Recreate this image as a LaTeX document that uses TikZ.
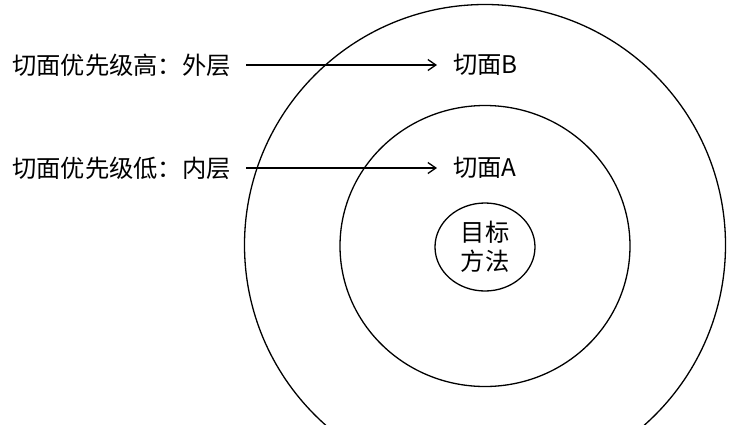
\documentclass[tikz,border=0pt]{standalone}
\usepackage{fontspec}
\setmainfont{Noto Sans CJK SC}
\usetikzlibrary{arrows.meta,shapes.geometric}
\begin{document}
\begin{tikzpicture}[x=1pt,y=-1pt,
  ring/.style={draw, line width=1.3pt, ellipse, inner sep=0pt},
  lbl/.style={font=\fontsize{24.3}{29}\selectfont, inner sep=0pt, anchor=west},
  arr/.style={line width=1.3pt, -{Straight Barb[length=8pt,width=11pt,line width=1.3pt]}}]
\path[use as bounding box] (0,0) rectangle (748,424);
\node[ring, minimum width=481pt, minimum height=481pt] (outer) at (485,245) {};
\node[ring, minimum width=290pt, minimum height=281pt] (middle) at (485,246) {};
\node[ring, minimum width=100pt, minimum height=88pt, align=center,
      font=\fontsize{24.3}{29}\selectfont] (core) at (485,247) {目标\\方法};
\node[lbl] (hi) at (12,65) {切面优先级高：外层};
\node[lbl] (lo) at (12,168) {切面优先级低：内层};
\node[lbl] (B) at (453,65) {切面B};
\node[lbl] (A) at (453,168) {切面A};
\draw[arr, shorten <=15pt, shorten >=16pt] (hi.east) -- (B.west);
\draw[arr, shorten <=15pt, shorten >=16pt] (lo.east) -- (A.west);
\end{tikzpicture}
\end{document}
